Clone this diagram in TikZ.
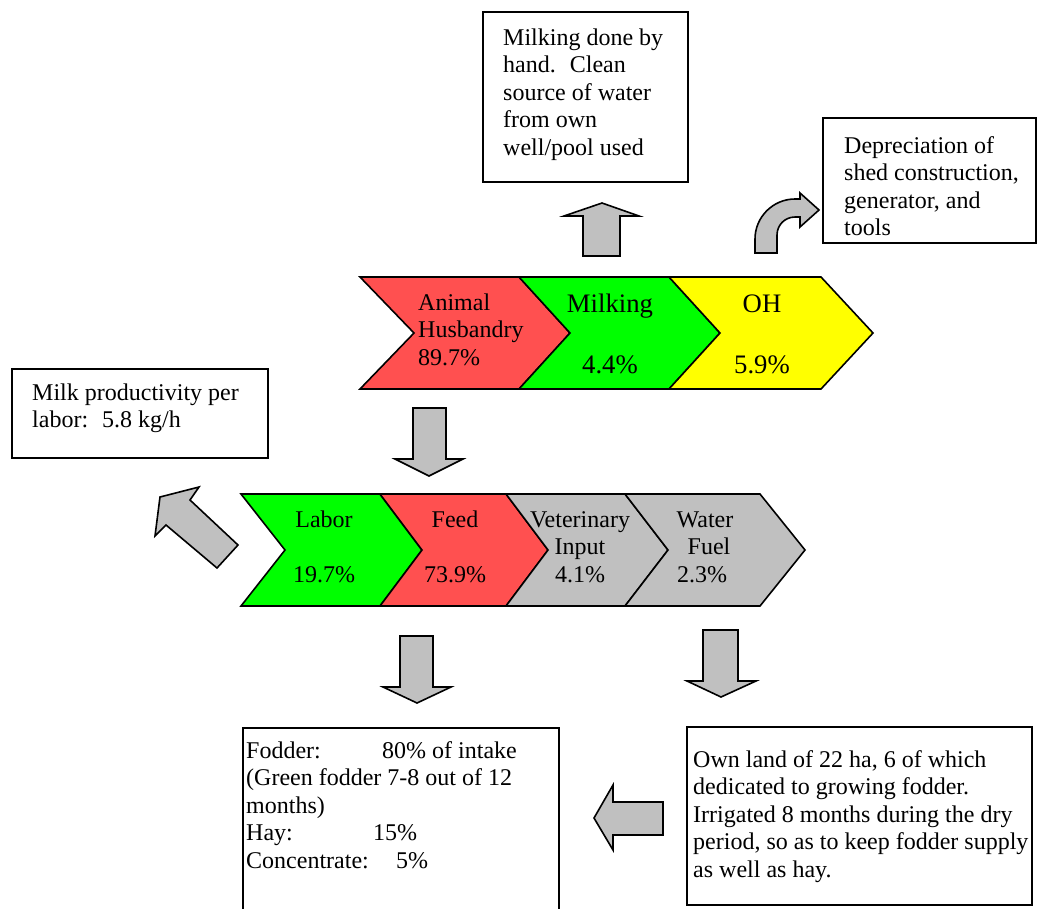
\documentclass[tikz,border=0pt]{standalone}
\usepackage{fontspec}
\setmainfont{Liberation Serif}
\definecolor{cred}{HTML}{FF5050}
\definecolor{cgreen}{HTML}{00FF00}
\definecolor{cyellow}{HTML}{FFFF00}
\definecolor{cgrey}{HTML}{C0C0C0}
\newcommand\bodyfs{\fontsize{24}{27.6}\selectfont}
\newcommand\bigfs{\fontsize{26.7}{30.7}\selectfont}
\begin{document}
\begin{tikzpicture}[x=1pt,y=-1pt,
  outl/.style={draw=black, line width=1.6pt, line join=miter},
  blk/.style={draw=black, line width=1.6pt, fill=cgrey, line join=miter},
  boxst/.style={draw=black, line width=1.6pt, fill=white},
  txt/.style={inner sep=0pt, anchor=base west, font=\bodyfs},
  ctxt/.style={inner sep=0pt, anchor=base, font=\bodyfs},
  btxt/.style={inner sep=0pt, anchor=base, font=\bigfs}]
\useasboundingbox (0,0) rectangle (1040,908);

% ---------- top chevrons ----------
\draw[outl, fill=cred] (360,277) -- (519,277) -- (570,333) -- (519,389) -- (360,389) -- (414,333) -- cycle;
\draw[outl, fill=cgreen] (519,277) -- (669,277) -- (720,333) -- (669,389) -- (519,389) -- (570,333) -- cycle;
\draw[outl, fill=cyellow] (669,277) -- (821,277) -- (873,333) -- (821,389) -- (669,389) -- (720,333) -- cycle;
\node[txt] (tah) at (418,310) {\parbox[t]{140pt}{\raggedright Animal\\Husbandry\\89.7\%}};
\node[btxt] (tmk) at (610,312) {\parbox[t]{120pt}{\centering Milking\\\mbox{}\\4.4\%}};
\node[btxt] (toh) at (762,312) {\parbox[t]{120pt}{\centering OH\\\mbox{}\\5.9\%}};

% ---------- bottom chevrons ----------
\draw[outl, fill=cgreen] (241,494) -- (380,494) -- (422,550) -- (380,606) -- (241,606) -- (285,550) -- cycle;
\draw[outl, fill=cred] (380,494) -- (506,494) -- (548,550) -- (506,606) -- (380,606) -- (422,550) -- cycle;
\draw[outl, fill=cgrey] (506,494) -- (625,494) -- (668,550) -- (625,606) -- (506,606) -- (548,550) -- cycle;
\draw[outl, fill=cgrey] (625,494) -- (760,494) -- (805,550) -- (760,606) -- (625,606) -- (668,550) -- cycle;
\node[ctxt] (tlab) at (324,527) {\parbox[t]{120pt}{\centering Labor\\\mbox{}\\19.7\%}};
\node[ctxt] (tfeed) at (455,527) {\parbox[t]{120pt}{\centering Feed\\\mbox{}\\73.9\%}};
\node[ctxt] (tvet) at (580,527) {\parbox[t]{130pt}{\centering Veterinary\\Input\\4.1\%}};
\node[ctxt] (twat) at (705,527) {\parbox[t]{120pt}{\centering Water\\\hspace*{8pt}Fuel\\\hspace*{-6pt}2.3\%}};

% ---------- boxes ----------
\draw[boxst] (483,12) rectangle (688,182);
\node[txt] (ta) at (503,45) {\parbox[t]{200pt}{\raggedright Milking done by\\hand.~ Clean\\source of water\\from own\\well/pool used}};

\draw[boxst] (823,118) rectangle (1036,243);
\node[txt] (tb) at (844,153) {\parbox[t]{200pt}{\raggedright Depreciation of\\shed construction,\\generator, and\\tools}};

\draw[boxst] (12,369) rectangle (268,458);
\node[txt] (tc) at (32,400) {\parbox[t]{240pt}{\raggedright Milk productivity per\\labor:~ 5.8 kg/h}};

\draw[line width=1.6pt] (243,909) -- (243,728) -- (559,728) -- (559,909);
\node[txt] (td) at (246,758) {\parbox[t]{320pt}{\raggedright \makebox[136pt][l]{Fodder:}80\% of intake\\(Green fodder 7-8 out of 12\\months)\\\makebox[127pt][l]{Hay:}15\%\\\makebox[150pt][l]{Concentrate:}5\%}};

\draw[boxst] (687,727) rectangle (1032,905);
\node[txt] (te) at (693,767) {\parbox[t]{340pt}{\raggedright Own land of 22 ha, 6 of which\\dedicated to growing fodder.\\Irrigated 8 months during the dry\\period, so as to keep fodder supply\\as well as hay.}};

% ---------- block arrows ----------
% up arrow
\draw[blk] (583,256) -- (583,216) -- (564,216) -- (602,203) -- (639,216) -- (620,216) -- (620,256) -- cycle;
% curved arrow
\draw[blk] (755,253) -- (755,239) .. controls (755,217) and (773,199) .. (795,199) -- (800,199) -- (800,193) -- (819,210) -- (800,227) -- (800,217) -- (795,217) .. controls (785,217) and (777,225) .. (777,235) -- (777,253) -- cycle;
% middle down arrow
\draw[blk] (413,408) -- (446,408) -- (446,459) -- (463,459) -- (429,476) -- (395,459) -- (413,459) -- cycle;
% diagonal arrow
\draw[blk] (199,487) -- (160,497) -- (155,536) -- (166,525) -- (217,568) -- (238,545) -- (190,500) -- cycle;
% bottom down arrows
\draw[blk] (400,636) -- (433,636) -- (433,687) -- (451,687) -- (417,703) -- (383,687) -- (400,687) -- cycle;
\draw[blk] (703,630) -- (738,630) -- (738,681) -- (756,681) -- (721,697) -- (687,681) -- (703,681) -- cycle;
% left arrow
\draw[blk] (663,802) -- (663,835) -- (613,835) -- (613,850) -- (594,818) -- (613,785) -- (613,802) -- cycle;
\end{tikzpicture}
\end{document}
